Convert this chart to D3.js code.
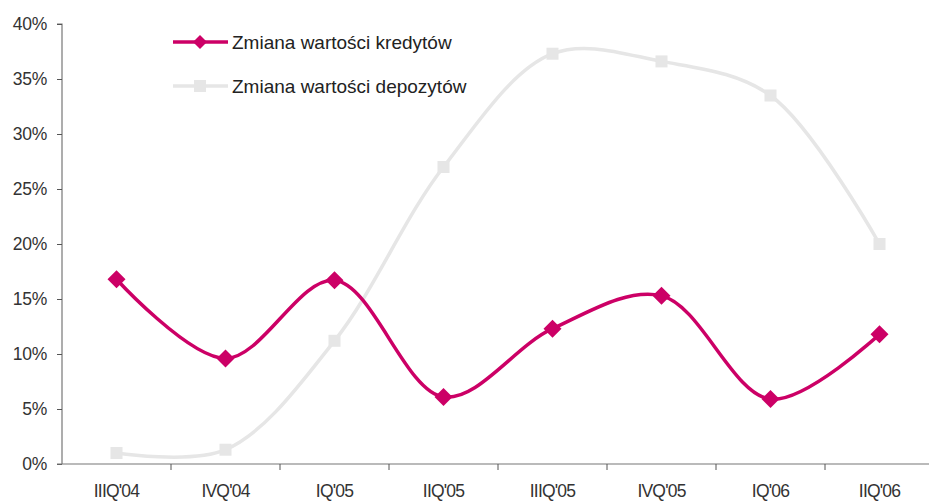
<!DOCTYPE html>
<html><head><meta charset="utf-8">
<script src="https://cdn.jsdelivr.net/npm/d3@7"></script>
<style>body{margin:0;background:#fff}svg{display:block}</style>
</head><body>
<svg id="c" width="929" height="504"></svg>
<script>
const categories = ["IIIQ'04","IVQ'04","IQ'05","IIQ'05","IIIQ'05","IVQ'05","IQ'06","IIQ'06"];
const kredyty = [16.8, 9.6, 16.7, 6.1, 12.3, 15.3, 5.9, 11.8];
const depozyty = [1.0, 1.3, 11.2, 27.0, 37.3, 36.6, 33.5, 20.0];
const seriesNames = ["Zmiana wartości kredytów","Zmiana wartości depozytów"];
const yTicks = [0,5,10,15,20,25,30,35,40];

const svg = d3.select("#c");
const L = 62, R = 934, T = 24, B = 464;
const x = d3.scaleBand().domain(categories).range([L, R]);
const y = d3.scaleLinear().domain([0, 40]).range([B, T]);
const font = "'Liberation Sans', Arial, sans-serif";
const textCol = "#333";

// Y axis
const ya = svg.append("g").attr("transform", `translate(${L},0)`)
  .call(d3.axisLeft(y).tickValues(yTicks).tickFormat(d => d + "%").tickSize(5).tickPadding(10));
ya.select(".domain").attr("stroke", "#777").attr("stroke-width", 1.2).attr("d", `M-5,${T}H0V${B}`);
ya.selectAll(".tick line").attr("stroke", "#555");
ya.selectAll("text").attr("font-family", font).attr("font-size", 17.5).attr("fill", textCol).attr("letter-spacing", "-0.3px");

// X axis
const xa = svg.append("g").attr("transform", `translate(0,${B})`)
  .call(d3.axisBottom(x).tickSize(0).tickPadding(21));
xa.select(".domain").attr("stroke", "#777").attr("stroke-width", 1.2).attr("d", `M${L-5},0H${R}`);
xa.selectAll("text").attr("font-family", font).attr("font-size", 17.5).attr("fill", textCol).attr("letter-spacing", "-0.8px");
// boundary ticks
const bounds = categories.slice(1).map(c => x(c));
svg.append("g").selectAll("line").data(bounds).join("line")
  .attr("x1", d => d).attr("x2", d => d).attr("y1", B).attr("y2", B + 6)
  .attr("stroke", "#555").attr("stroke-width", 1);

const cx = c => x(c) + x.bandwidth() / 2;
const line = d3.line().x((d, i) => cx(categories[i])).y(d => y(d)).curve(d3.curveCatmullRom.alpha(0.5));

// Depozyty
svg.append("path").datum(depozyty).attr("d", line).attr("fill", "none")
  .attr("stroke", "#e6e6e6").attr("stroke-width", 3.5);
svg.append("g").selectAll("rect").data(depozyty).join("rect")
  .attr("x", (d, i) => cx(categories[i]) - 6).attr("y", d => y(d) - 6)
  .attr("width", 12).attr("height", 12).attr("fill", "#e6e6e6");

// Kredyty
svg.append("path").datum(kredyty).attr("d", line).attr("fill", "none")
  .attr("stroke", "#cc0066").attr("stroke-width", 3.5);
const diamond = (cxv, cyv, r) => `M${cxv},${cyv - r}L${cxv + r},${cyv}L${cxv},${cyv + r}L${cxv - r},${cyv}Z`;
svg.append("g").selectAll("path").data(kredyty).join("path")
  .attr("d", (d, i) => diamond(cx(categories[i]), y(d), 9)).attr("fill", "#cc0066");

// Legend
const leg = [{name: seriesNames[0], col: "#cc0066", mk: "d", yy: 42}, {name: seriesNames[1], col: "#e6e6e6", mk: "s", yy: 86}];
leg.forEach(l => {
  svg.append("line").attr("x1", 173).attr("x2", 228).attr("y1", l.yy).attr("y2", l.yy)
    .attr("stroke", l.col).attr("stroke-width", 3.5);
  if (l.mk === "d") svg.append("path").attr("d", diamond(200, l.yy, 7)).attr("fill", l.col);
  else svg.append("rect").attr("x", 194).attr("y", l.yy - 6).attr("width", 12).attr("height", 12).attr("fill", l.col);
  svg.append("text").attr("x", 232).attr("y", l.yy).attr("dy", "0.35em")
    .attr("font-family", font).attr("font-size", 19).attr("fill", "#222").text(l.name);
});
</script>
</body></html>
